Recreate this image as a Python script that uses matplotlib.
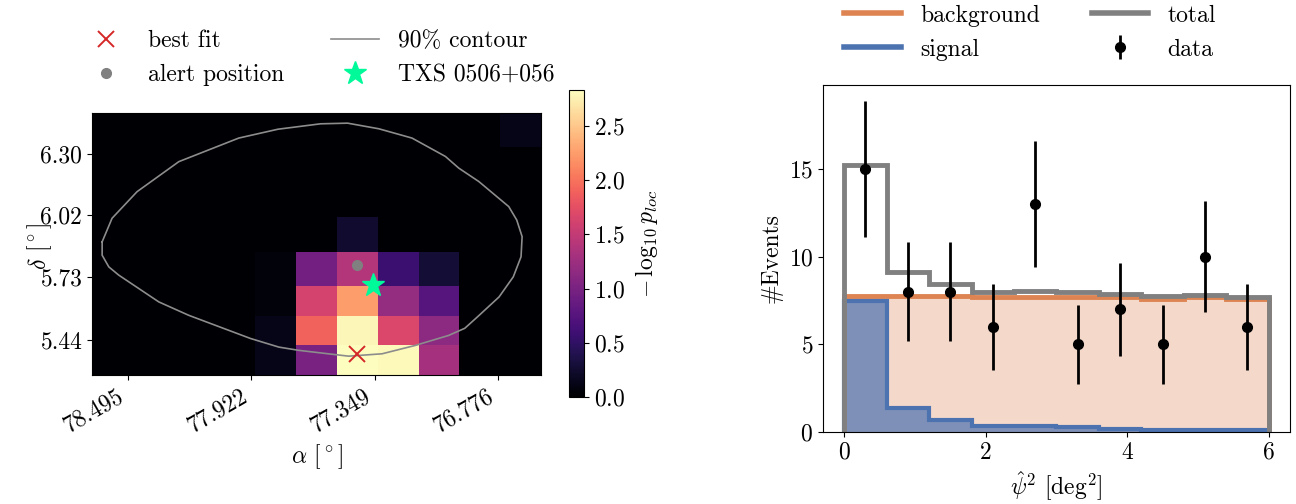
import numpy as np
import matplotlib
matplotlib.use("Agg")
import matplotlib.pyplot as plt
from matplotlib.lines import Line2D

plt.rcParams.update({
    "font.family": "serif",
    "font.serif": ["cmr10"],
    "mathtext.fontset": "cm",
    "axes.unicode_minus": False,
    "axes.formatter.use_mathtext": True,
    "font.size": 17,
})

# ---------------- sky map around the alert ----------------
ra_edges = [78.660, 78.471, 78.281, 78.092, 77.902, 77.713, 77.523,
            77.334, 77.144, 76.955, 76.765, 76.576]
dec_edges = [6.490, 6.332, 6.171, 6.010, 5.848, 5.689, 5.551, 5.415, 5.278]

neg_log_p = [
    [0.01, 0.01, 0.01, 0.01, 0.01, 0.01, 0.01, 0.01, 0.01, 0.01, 0.13],
    [0.01, 0.01, 0.01, 0.01, 0.01, 0.01, 0.01, 0.01, 0.01, 0.01, 0.01],
    [0.01, 0.01, 0.01, 0.01, 0.01, 0.01, 0.01, 0.01, 0.01, 0.01, 0.01],
    [0.01, 0.01, 0.01, 0.01, 0.01, 0.01, 0.25, 0.01, 0.01, 0.01, 0.01],
    [0.01, 0.01, 0.01, 0.01, 0.06, 0.95, 1.40, 0.57, 0.28, 0.01, 0.01],
    [0.01, 0.01, 0.01, 0.01, 0.06, 1.62, 2.25, 1.19, 0.75, 0.01, 0.01],
    [0.01, 0.01, 0.01, 0.01, 0.13, 1.90, 2.78, 1.68, 1.13, 0.01, 0.01],
    [0.01, 0.01, 0.01, 0.01, 0.13, 1.00, 2.83, 2.80, 1.30, 0.01, 0.01],
]

# 90% containment contour of the alert
contour_ra = [78.613, 78.567, 78.451, 78.257, 77.979, 77.797, 77.599, 77.474,
              77.329, 77.175, 77.020, 76.958, 76.865, 76.726, 76.689, 76.664,
              76.669, 76.705, 76.771, 76.871, 76.930, 77.005, 77.159, 77.314,
              77.469, 77.701, 77.793, 77.925, 78.211, 78.350, 78.536, 78.582,
              78.613, 78.613]
contour_dec = [5.894, 6.003, 6.126, 6.265, 6.374, 6.415, 6.440, 6.443,
               6.417, 6.374, 6.289, 6.235, 6.173, 6.057, 5.995, 5.918,
               5.825, 5.732, 5.639, 5.547, 5.494, 5.461, 5.415, 5.376,
               5.365, 5.392, 5.407, 5.447, 5.554, 5.616, 5.740, 5.778,
               5.832, 5.894]

best_fit = (77.428, 5.374)
alert_pos = (77.428, 5.789)
txs_pos = (77.358, 5.693)

ra_tick_labels = ["78.495", "77.922", "77.349", "76.776"]
dec_tick_labels = ["6.30", "6.02", "5.73", "5.44"]

# ---------------- angular distance histogram ----------------
psi2_edges = [0.0, 0.6, 1.2, 1.8, 2.4, 3.0, 3.6, 4.2, 4.8, 5.4, 6.0]
background_counts = [7.75, 7.78, 7.76, 7.68, 7.72, 7.68, 7.70, 7.62, 7.68, 7.60]
signal_counts = [7.48, 1.35, 0.68, 0.34, 0.32, 0.29, 0.16, 0.12, 0.12, 0.10]
data_counts = [15, 8, 8, 6, 13, 5, 7, 5, 10, 6]

orange = "#dd8452"
blue = "#4c72b0"

fig = plt.figure(figsize=(12.96, 5.04), dpi=100)

# ---- left panel: sky map ----
ax1 = fig.add_axes([0.0710, 0.2560, 0.3465, 0.5198])
mesh = ax1.pcolormesh(ra_edges, dec_edges, np.array(neg_log_p),
                      cmap="magma", vmin=0, vmax=max(map(max, neg_log_p)))
h_cont, = ax1.plot(contour_ra, contour_dec, color="#8c8c8c", lw=1.2,
                   label="90% contour")
h_best, = ax1.plot(*best_fit, "x", color="tab:red", ms=12, mew=1.4,
                   ls="none", label="best fit")
h_alert, = ax1.plot(*alert_pos, "o", color="gray", ms=7, ls="none",
                    label="alert position")
h_txs, = ax1.plot(*txs_pos, "*", color="mediumspringgreen", ms=17, ls="none",
                  label="TXS 0506+056")
ax1.set_xlim(ra_edges[0], ra_edges[-1])
ax1.set_ylim(dec_edges[-1], dec_edges[0])
ax1.set_xticks([float(s) for s in ra_tick_labels])
ax1.set_xticklabels(ra_tick_labels, rotation=30, ha="right")
ax1.set_yticks([float(s) for s in dec_tick_labels])
ax1.set_yticklabels(dec_tick_labels)
ax1.set_xlabel(r"$\alpha$ [$^\circ$]")
ax1.set_ylabel(r"$\delta$ [$^\circ$]")
ax1.yaxis.set_label_coords(-0.085, 0.49)

cax = fig.add_axes([0.4390, 0.2123, 0.0116, 0.6091])
cb = fig.colorbar(mesh, cax=cax)
cb.set_ticks([0.0, 0.5, 1.0, 1.5, 2.0, 2.5])
cb.set_label(r"$-\,\log_{10} p_{loc}$", labelpad=6)
cb.outline.set_linewidth(0.8)

fig.legend([h_best, h_alert, h_cont, h_txs],
           ["best fit", "alert position", "90% contour", "TXS 0506+056"],
           ncol=2, frameon=False, loc="center",
           bbox_to_anchor=(318 / 1296, 1 - 58 / 504), fontsize=17)

# ---- right panel: psi^2 distribution ----
ax2 = fig.add_axes([0.6350, 0.1429, 0.3603, 0.6885])
bkg = np.array(background_counts)
sig = np.array(signal_counts)
total = bkg + sig
edges = np.array(psi2_edges)
centers = 0.5 * (edges[:-1] + edges[1:])
counts = np.array(data_counts)

ax2.stairs(bkg, edges, fill=True, color=orange, alpha=0.3, lw=0)
ax2.stairs(sig, edges, fill=True, color=blue, alpha=0.7, lw=0)
ax2.stairs(bkg, edges, color=orange, lw=3.5)
ax2.stairs(sig, edges, color=blue, lw=3)
ax2.stairs(total, edges, color="gray", lw=3.5)
ax2.errorbar(centers, counts, yerr=np.sqrt(counts), fmt="o", color="k",
             ms=7, elinewidth=2, capsize=0)
ax2.set_xlabel(r"$\hat{\psi}^2$ [deg$^2$]")
ax2.set_ylabel("#Events")

leg_handles = [
    Line2D([], [], color=orange, lw=4),
    Line2D([], [], color=blue, lw=4),
    Line2D([], [], color="gray", lw=4),
    ax2.containers[0],
]
fig.legend(leg_handles, ["background", "signal", "total", "data"],
           ncol=2, frameon=False, loc="center", handlelength=2.4,
           columnspacing=2.2, bbox_to_anchor=(1030 / 1296, 1 - 32.5 / 504),
           fontsize=17)

fig.savefig("out.png", dpi=100)
